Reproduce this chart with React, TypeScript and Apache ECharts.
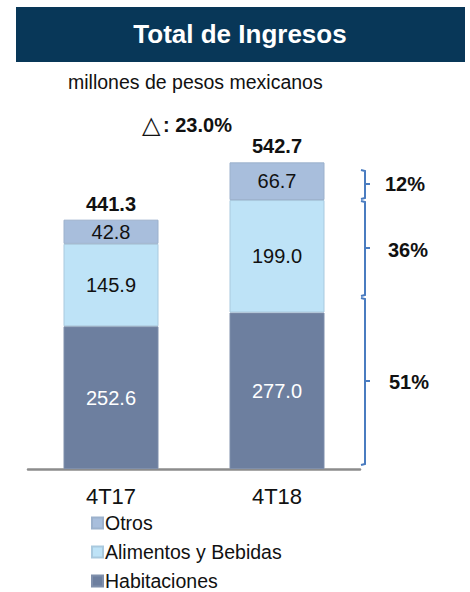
import React, { useEffect, useRef } from "react";
import * as echarts from "echarts";

const categories = ["4T17", "4T18"];
const habitaciones = [252.6, 277.0];
const alimentos = [145.9, 199.0];
const otros = [42.8, 66.7];
const seriesNames = ["Otros", "Alimentos y Bebidas", "Habitaciones"];
const shareLabels = ["12%", "36%", "51%"];
const growthSymbol = "\u25B3";
const growthLabel = ": 23.0%";
const titleText = "Total de Ingresos";
const subtitleText = "millones de pesos mexicanos";

const FONT = "'Liberation Sans', Arial, sans-serif";

export default function App() {
  const ref = useRef<HTMLDivElement>(null);
  useEffect(() => {
    document.body.style.margin = "0";
    if (!ref.current) return;
    const chart = echarts.init(ref.current, null, { renderer: "svg" });
    const totals = categories.map((_, i) => +(habitaciones[i] + alimentos[i] + otros[i]).toFixed(1));
    const segLabel = (color: string) => ({
      show: true,
      position: "inside" as const,
      color,
      fontSize: 20,
      fontFamily: FONT,
      formatter: (p: any) => Number(p.value).toFixed(1),
    });
    const braceColor = "#4A7CC0";
    const braces = [
      { y0: 170, y1: 199, ym: 184, ly: 184, lx: 385 },
      { y0: 201, y1: 296, ym: 248, ly: 250, lx: 388 },
      { y0: 298, y1: 465, ym: 381, ly: 382, lx: 389 },
    ];
    const braceGraphics: any[] = [];
    braces.forEach((b, i) => {
      braceGraphics.push({
        type: "polyline",
        shape: { points: [[361, b.y0], [365, b.y0 + 1], [365, b.y1 - 1], [361, b.y1]] },
        style: { stroke: braceColor, lineWidth: 2, fill: null },
      });
      braceGraphics.push({
        type: "line",
        shape: { x1: 365, y1: b.ym, x2: 370, y2: b.ym },
        style: { stroke: braceColor, lineWidth: 2 },
      });
      braceGraphics.push({
        type: "text",
        x: b.lx,
        y: b.ly,
        style: {
          text: shareLabels[i],
          font: `bold 20px ${FONT}`,
          fill: "#111",
          textVerticalAlign: "middle",
        },
      });
    });

    chart.setOption({
      animation: false,
      backgroundColor: "#fff",
      grid: { left: 28, top: 130, width: 332, height: 339 },
      legend: {
        orient: "vertical",
        left: 86,
        top: 508,
        height: 120,
        data: seriesNames,
        itemWidth: 11,
        itemHeight: 11,
        itemGap: 9,
        icon: "rect",
        textStyle: { fontSize: 19.5, fontFamily: FONT, color: "#111", lineHeight: 18, padding: [0, 0, 0, -3] },
        selectedMode: false,
      },
      xAxis: {
        type: "category",
        data: categories,
        axisLine: { lineStyle: { color: "#8C8C8C", width: 2.5 } },
        axisTick: { show: false },
        axisLabel: { fontSize: 22, fontFamily: FONT, color: "#111", margin: 16 },
      },
      yAxis: { type: "value", min: 0, max: 600, show: false, splitLine: { show: false } },
      series: [
        {
          name: "Habitaciones",
          type: "bar",
          stack: "t",
          barWidth: 95,
          data: habitaciones,
          itemStyle: { color: "#6D7F9F", borderColor: "#7F8FAB", borderWidth: 1 },
          label: segLabel("#fff"),
        },
        {
          name: "Alimentos y Bebidas",
          type: "bar",
          stack: "t",
          data: alimentos,
          itemStyle: { color: "#BEE3F7", borderColor: "#A9C9DE", borderWidth: 1 },
          label: segLabel("#111"),
        },
        {
          name: "Otros",
          type: "bar",
          stack: "t",
          data: otros,
          itemStyle: { color: "#A8BEDC", borderColor: "#9CB1CC", borderWidth: 1 },
          label: segLabel("#111"),
        },
        {
          name: "Total",
          type: "bar",
          stack: "t",
          data: totals.map(() => 0),
          itemStyle: { color: "transparent" },
          label: {
            show: true,
            position: "top",
            distance: 6,
            color: "#111",
            fontSize: 20,
            fontWeight: "bold",
            fontFamily: FONT,
            formatter: (p: any) => totals[p.dataIndex].toFixed(1),
          },
        },
      ],
      graphic: [
        {
          type: "rect",
          shape: { x: 16, y: 7, width: 449, height: 55 },
          style: { fill: "#083758" },
        },
        {
          type: "text",
          x: 240,
          y: 34,
          style: {
            text: titleText,
            font: `bold 26px ${FONT}`,
            fill: "#fff",
            textAlign: "center",
            textVerticalAlign: "middle",
          },
        },
        {
          type: "text",
          x: 68,
          y: 82,
          style: {
            text: subtitleText,
            font: `19.5px ${FONT}`,
            fill: "#111",
            textVerticalAlign: "middle",
          },
        },
        {
          type: "text",
          x: 142,
          y: 125,
          style: {
            text: growthSymbol,
            font: `24px 'DejaVu Sans', sans-serif`,
            fill: "#111",
            textVerticalAlign: "middle",
          },
        },
        {
          type: "text",
          x: 163,
          y: 125,
          style: {
            text: growthLabel,
            font: `bold 20px ${FONT}`,
            fill: "#111",
            textVerticalAlign: "middle",
          },
        },
        ...braceGraphics,
      ],
    });
    return () => chart.dispose();
  }, []);
  return <div ref={ref} style={{ width: 470, height: 592 }} />;
}
